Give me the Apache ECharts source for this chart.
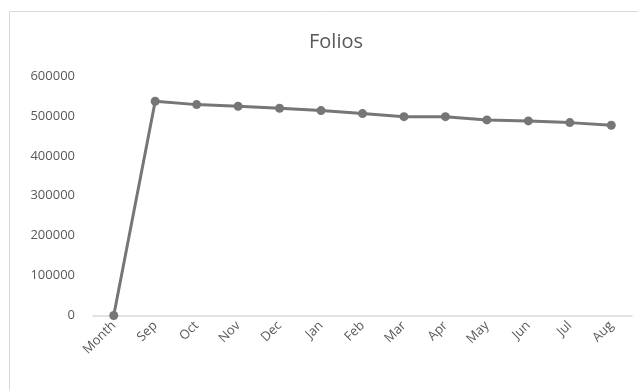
<!DOCTYPE html>
<html>
<head>
<meta charset="utf-8">
<script src="https://cdn.jsdelivr.net/npm/echarts@6/dist/echarts.min.js"></script>
<style>
  html, body { margin: 0; padding: 0; background: #fff; }
  #main { width: 638px; height: 390px; }
</style>
</head>
<body>
<div id="main"></div>
<script>
var months = ["Month", "Sep", "Oct", "Nov", "Dec", "Jan", "Feb", "Mar", "Apr", "May", "Jun", "Jul", "Aug"];
var folios = [0, 536800, 528300, 524300, 519300, 513300, 505800, 498200, 498200, 490000, 487500, 483200, 476700];
var yTicks = [0, 100000, 200000, 300000, 400000, 500000, 600000];

var myChart = echarts.init(document.getElementById("main"));
var option = {
    animation: false,
    textStyle: { fontFamily: "Open Sans" },
    graphic: [{
        type: 'rect',
        shape: { x: 9.5, y: 11.5, width: 640, height: 400 },
        style: { fill: null, stroke: '#d9d9d9', lineWidth: 1 },
        silent: true
    }],
    title: {
        text: 'Folios',
        left: 331,
        top: 27,
        textAlign: 'center',
        textStyle: {
            color: '#595959',
            fontSize: 20,
            fontWeight: 'normal',
            fontFamily: 'Open Sans'
        }
    },
    grid: {
        left: 93,
        right: 6,
        top: 76,
        bottom: 74.5
    },
    xAxis: {
        type: 'category',
        data: months,
        boundaryGap: true,
        axisLine: { lineStyle: { color: '#d9d9d9', width: 1.5 } },
        axisTick: { show: false },
        axisLabel: {
            rotate: 45,
            color: '#595959',
            fontSize: 13,
            margin: 8,
            interval: 0
        }
    },
    yAxis: {
        type: 'value',
        min: yTicks[0],
        max: yTicks[yTicks.length - 1],
        interval: 100000,
        axisLine: { show: false },
        axisTick: { show: false },
        splitLine: { show: false },
        axisLabel: {
            color: '#595959',
            fontSize: 13,
            margin: 18,
            formatter: function (v) { return String(v); }
        }
    },
    series: [{
        type: 'line',
        data: folios,
        symbol: 'circle',
        symbolSize: 9,
        lineStyle: { color: '#767676', width: 3 },
        itemStyle: { color: '#767676' }
    }]
};
myChart.setOption(option);
</script>
</body>
</html>
